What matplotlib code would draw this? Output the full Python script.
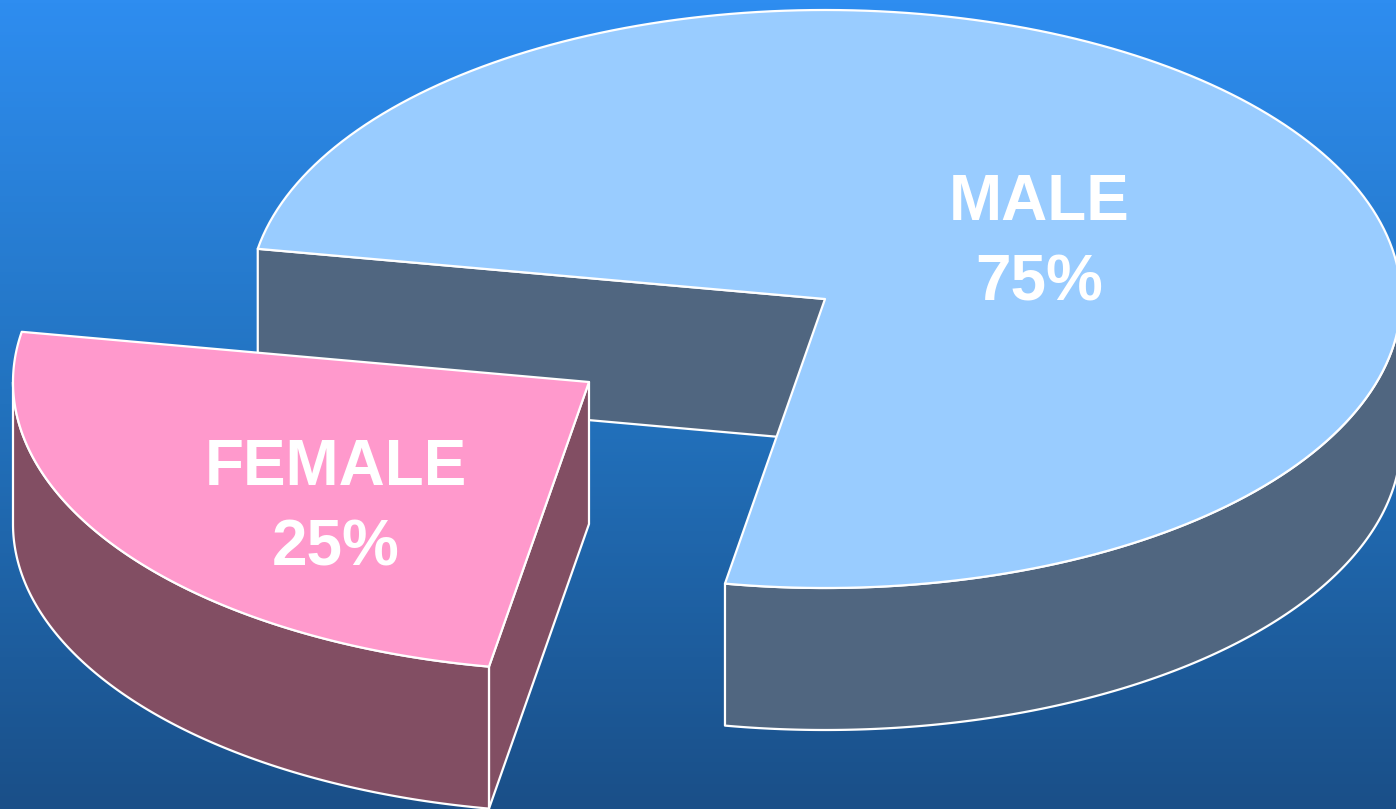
import matplotlib
matplotlib.use('Agg')
import matplotlib.pyplot as plt
import numpy as np

labels = ['FEMALE', 'MALE']
shares = [25, 75]
top_colors = ['#FF99CC', '#99CCFF']
side_colors = ['#824E63', '#506680']

# pie geometry in pixels
cx, cy = 825, 299
rx, ry = 576, 289
depth = 142
start_angle = 170  # degrees, going counter clockwise on the unit circle
female_shift = (-236, 83)
edge = dict(edgecolor='white', linewidth=1.6, joinstyle='round')

plt.rcParams['font.family'] = ['Liberation Sans', 'DejaVu Sans']


def arc(t0, t1, shift=(0, 0), down=0):
    t = np.radians(np.linspace(t0, t1, 200))
    # y axis points down, so sin is subtracted
    return np.column_stack([cx + shift[0] + rx*np.cos(t),
                            cy + shift[1] + down - ry*np.sin(t)])


def outer_wall(ax, t0, t1, shift, color, z):
    # only the front half of the rim (180..360 deg) can be seen
    t0, t1 = max(t0, 180), min(t1, 360)
    upper = arc(t0, t1, shift)
    lower = arc(t1, t0, shift, depth)
    ax.fill(*np.vstack([upper, lower]).T, facecolor=color, zorder=z, **edge)


def cut_wall(ax, t, shift, color, z):
    apex = np.array([cx + shift[0], cy + shift[1]])
    rim = arc(t, t, shift)[0]
    pts = np.array([apex, rim, rim + [0, depth], apex + [0, depth]])
    ax.fill(*pts.T, facecolor=color, zorder=z, **edge)


def top_face(ax, t0, t1, shift, color, z):
    apex = np.array([[cx + shift[0], cy + shift[1]]])
    pts = np.vstack([apex, arc(t0, t1, shift)])
    ax.fill(*pts.T, facecolor=color, zorder=z, **edge)


fig = plt.figure(figsize=(13.96, 8.09), dpi=100)
ax = fig.add_axes([0, 0, 1, 1])
ax.set_xlim(0, 1396)
ax.set_ylim(809, 0)
ax.axis('off')

# background gradient
grad = np.linspace(0, 1, 256).reshape(-1, 1)
bg = matplotlib.colors.LinearSegmentedColormap.from_list(
    'bg', ['#2E8DF0', '#2272BE', '#1A4F88'])
ax.imshow(grad, cmap=bg, extent=(0, 1396, 809, 0), aspect='auto', zorder=0)

female_span = shares[0] / sum(shares) * 360
female_end = start_angle + female_span
male_end = start_angle + 360

# male slice, back wall first and the top over it
cut_wall(ax, start_angle, (0, 0), side_colors[1], 1)
outer_wall(ax, female_end, male_end, (0, 0), side_colors[1], 2)
top_face(ax, female_end, male_end, (0, 0), top_colors[1], 3)

# female slice is pulled out to the lower left
cut_wall(ax, female_end, female_shift, side_colors[0], 4)
outer_wall(ax, start_angle, female_end, female_shift, side_colors[0], 5)
top_face(ax, start_angle, female_end, female_shift, top_colors[0], 6)

ax.text(1039, 243, f'{labels[1]}\n{shares[1]}%', color='white', fontsize=46,
        fontweight='bold', ha='center', va='center', linespacing=1.43, zorder=7)
ax.text(336, 508, f'{labels[0]}\n{shares[0]}%', color='white', fontsize=46,
        fontweight='bold', ha='center', va='center', linespacing=1.43, zorder=7)

fig.savefig('out.png', dpi=100)
